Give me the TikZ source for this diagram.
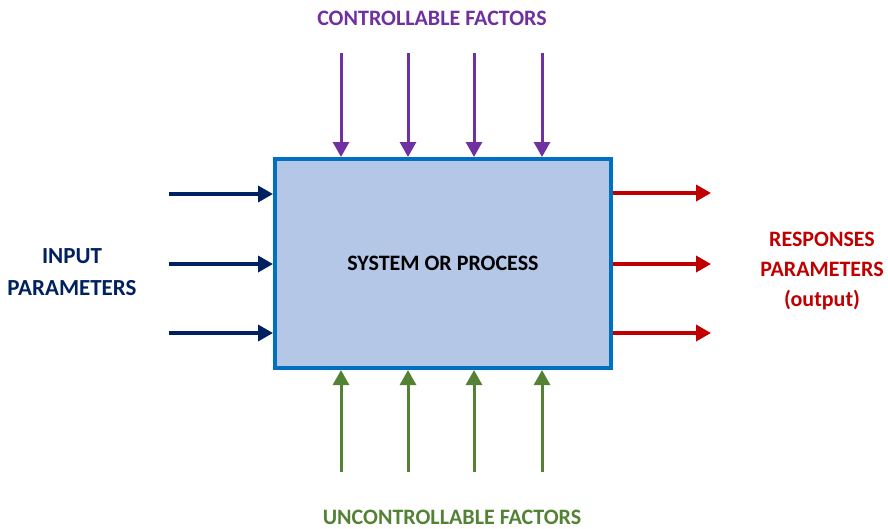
\documentclass[tikz,border=0pt]{standalone}
\usepackage{fontspec}
\setmainfont{Carlito}
\usetikzlibrary{arrows.meta}

\definecolor{boxfill}{HTML}{B4C7E7}
\definecolor{boxline}{HTML}{0070C0}
\definecolor{navy}{HTML}{002060}
\definecolor{ctrlpurple}{HTML}{7030A0}
\definecolor{uncgreen}{HTML}{548235}
\definecolor{outred}{HTML}{C00000}

\tikzset{
  flow/.style={line width=3.5pt, -{Triangle[length=15pt,width=16pt]}},
  label/.style={font=\bfseries\fontsize{22}{30}\selectfont, align=center}
}

\begin{document}
\begin{tikzpicture}[x=1pt, y=-1pt]

    % Fix the page to the size of the reference
    \useasboundingbox (0,0) rectangle (888,528);

    % The system block in the middle
    \node[draw=boxline, line width=4pt, fill=boxfill, minimum width=336pt,
          minimum height=209pt, font=\bfseries\fontsize{22}{26}\selectfont]
          (sys) at (443,263.5) {SYSTEM OR PROCESS};

    % Input arrows on the left
    \foreach \y [count=\i] in {194,264,333} {
        \coordinate (in\i) at (169,\y);
        \draw[flow, navy] (in\i) -- (sys.west |- in\i);
    }

    % Response arrows on the right
    \foreach \y [count=\i] in {193,264,333} {
        \coordinate (out\i) at (711,\y);
        \draw[flow, outred] (sys.east |- out\i) -- (out\i);
    }

    % Controllable factors from above, uncontrollable from below
    \foreach \x [count=\i] in {341,408,474,542} {
        \coordinate (ctrl\i) at (\x,53);
        \draw[flow, ctrlpurple, line width=3pt] (ctrl\i) -- (sys.north -| ctrl\i);
        \coordinate (unc\i) at (\x,472);
        \draw[flow, uncgreen, line width=3pt] (unc\i) -- (sys.south -| unc\i);
    }

    % Labels
    \node[label, text=ctrlpurple] (ctrltext) at (432,18) {CONTROLLABLE FACTORS};
    \node[label, text=uncgreen] (unctext) at (452,517) {UNCONTROLLABLE FACTORS};
    \node[label, text=navy, font=\bfseries\fontsize{23}{32}\selectfont]
          (intext) at (72,272) {INPUT\\PARAMETERS};
    \node[label, text=outred] (outtext) at (822,271) {RESPONSES\\PARAMETERS\\(output)};

\end{tikzpicture}
\end{document}
